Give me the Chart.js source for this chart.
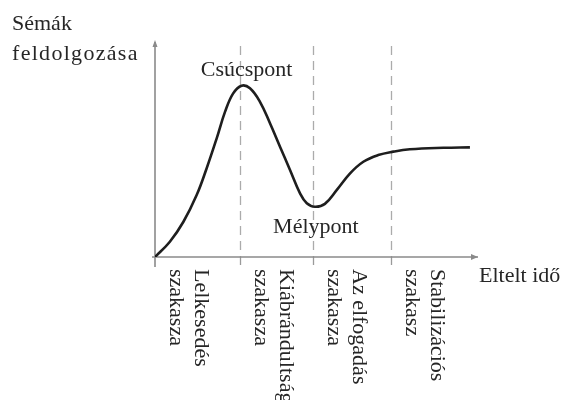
<!DOCTYPE html>
<html lang="hu">
<head>
<meta charset="utf-8">
<script src="https://cdn.jsdelivr.net/npm/chart.js@4.4.0/dist/chart.umd.min.js"></script>
<style>
  html, body { margin: 0; padding: 0; background: #fff; }
  #wrap { width: 561px; height: 400px; }
</style>
</head>
<body>
<div id="wrap"><canvas id="chart" width="561" height="400"></canvas></div>
<script>
// görbe pontjai: eltelt idő és sémák feldolgozása (önkényes egységek)
const timeValues = [0, 0.46, 0.88, 1.29, 1.60, 1.91, 2.17, 2.42, 2.68, 2.94, 3.25, 3.56, 3.87, 4.18, 4.49, 4.70, 4.95, 5.26, 5.63, 6.04, 6.45, 6.91, 7.38, 7.89, 8.93, 9.75];
const schemaValues = [0, 0.71, 1.64, 2.88, 4.13, 5.52, 6.76, 7.61, 7.97, 7.85, 7.22, 6.22, 5.13, 4.05, 2.96, 2.50, 2.34, 2.47, 3.12, 3.89, 4.43, 4.74, 4.90, 5.01, 5.08, 5.10];

// szakaszok kezdete az időtengelyen
const phaseStarts = [0, 2.63, 4.89, 7.31];
const phaseLabels = [
    ['Lelkesedés', 'szakasza'],
    ['Kiábrándultság', 'szakasza'],
    ['Az elfogadás', 'szakasza'],
    ['Stabilizációs', 'szakasz']
];

const yTitle = ['Sémák', 'feldolgozása'];
const xTitle = 'Eltelt idő';
const peakLabel = 'Csúcspont';
const troughLabel = 'Mélypont';
const peakIndex = 8;
const troughIndex = 16;

const FONT = '22px "Liberation Serif", "Times New Roman", serif';
const TEXT_COLOR = '#262626';
const AXIS_COLOR = '#8a8a8a';

// tengelyek, szaggatott vonalak és feliratok
const diagramPlugin = {
    id: 'diagram',
    beforeDatasetsDraw(chart) {
        const { ctx, chartArea, scales } = chart;
        const { left, right, top, bottom } = chartArea;
        ctx.save();

        // szaggatott szakaszhatárok
        ctx.strokeStyle = '#ababab';
        ctx.lineWidth = 1.3;
        ctx.setLineDash([9, 6]);
        phaseStarts.slice(1).forEach(v => {
            const px = Math.round(scales.x.getPixelForValue(v)) + 0.5;
            ctx.beginPath();
            ctx.moveTo(px, top + 4);
            ctx.lineTo(px, bottom);
            ctx.stroke();
        });
        ctx.setLineDash([]);

        // kis jelölések a tengely alatt
        ctx.strokeStyle = '#9a9a9a';
        phaseStarts.slice(1).forEach(v => {
            const px = Math.round(scales.x.getPixelForValue(v)) + 0.5;
            ctx.beginPath();
            ctx.moveTo(px, bottom);
            ctx.lineTo(px, bottom + 8);
            ctx.stroke();
        });

        // tengelyek
        ctx.strokeStyle = AXIS_COLOR;
        ctx.fillStyle = AXIS_COLOR;
        ctx.lineWidth = 1.6;
        ctx.beginPath();
        ctx.moveTo(left, top);
        ctx.lineTo(left, bottom + 10);
        ctx.moveTo(left - 3, bottom);
        ctx.lineTo(right, bottom);
        ctx.stroke();

        // nyilak
        ctx.beginPath();
        ctx.moveTo(right, bottom);
        ctx.lineTo(right - 7, bottom - 3);
        ctx.lineTo(right - 7, bottom + 3);
        ctx.closePath();
        ctx.fill();
        ctx.beginPath();
        ctx.moveTo(left, top - 2);
        ctx.lineTo(left - 2.5, top + 5);
        ctx.lineTo(left + 2.5, top + 5);
        ctx.closePath();
        ctx.fill();

        ctx.restore();
    },
    afterDatasetsDraw(chart) {
        const { ctx, chartArea, scales } = chart;
        const { bottom, right } = chartArea;
        ctx.save();
        ctx.font = FONT;
        ctx.fillStyle = TEXT_COLOR;
        ctx.textBaseline = 'alphabetic';

        // függőleges tengely címe
        ctx.textAlign = 'left';
        ctx.fillText(yTitle[0], 12, 30);
        ctx.letterSpacing = '1.3px';
        ctx.fillText(yTitle[1], 12, 60);
        ctx.letterSpacing = '0px';

        // vízszintes tengely címe
        ctx.fillText(xTitle, right + 1, bottom + 25);

        // csúcspont és mélypont
        ctx.textAlign = 'center';
        const peakX = scales.x.getPixelForValue(timeValues[peakIndex]);
        const peakY = scales.y.getPixelForValue(schemaValues[peakIndex]);
        ctx.fillText(peakLabel, peakX + 5, peakY - 10);
        const troughX = scales.x.getPixelForValue(timeValues[troughIndex]);
        const troughY = scales.y.getPixelForValue(schemaValues[troughIndex]);
        ctx.fillText(troughLabel, troughX + 1, troughY + 26);

        // elforgatott szakaszfeliratok
        ctx.textAlign = 'left';
        phaseLabels.forEach((lines, i) => {
            const base = scales.x.getPixelForValue(phaseStarts[i]);
            lines.forEach((line, j) => {
                const px = base + 15 + (lines.length - 1 - j) * 25;
                ctx.save();
                ctx.translate(px, bottom + 12);
                ctx.rotate(Math.PI / 2);
                ctx.fillText(line, 0, 0);
                ctx.restore();
            });
        });

        ctx.restore();
    }
};

const ctx = document.getElementById('chart').getContext('2d');
const chart = new Chart(ctx, {
    type: 'line',
    data: {
        datasets: [{
            data: timeValues.map((t, i) => ({ x: t, y: schemaValues[i] })),
            borderColor: '#1e1e1e',
            borderWidth: 2.6,
            pointRadius: 0,
            tension: 0.4,
            fill: false
        }]
    },
    options: {
        responsive: false,
        animation: false,
        layout: { padding: { left: 155, right: 83, top: 42, bottom: 143 } },
        plugins: {
            legend: { display: false },
            tooltip: { enabled: false }
        },
        scales: {
            x: { type: 'linear', min: 0, max: 10, display: false },
            y: { min: 0, max: 10, display: false }
        }
    },
    plugins: [diagramPlugin]
});
</script>
</body>
</html>
